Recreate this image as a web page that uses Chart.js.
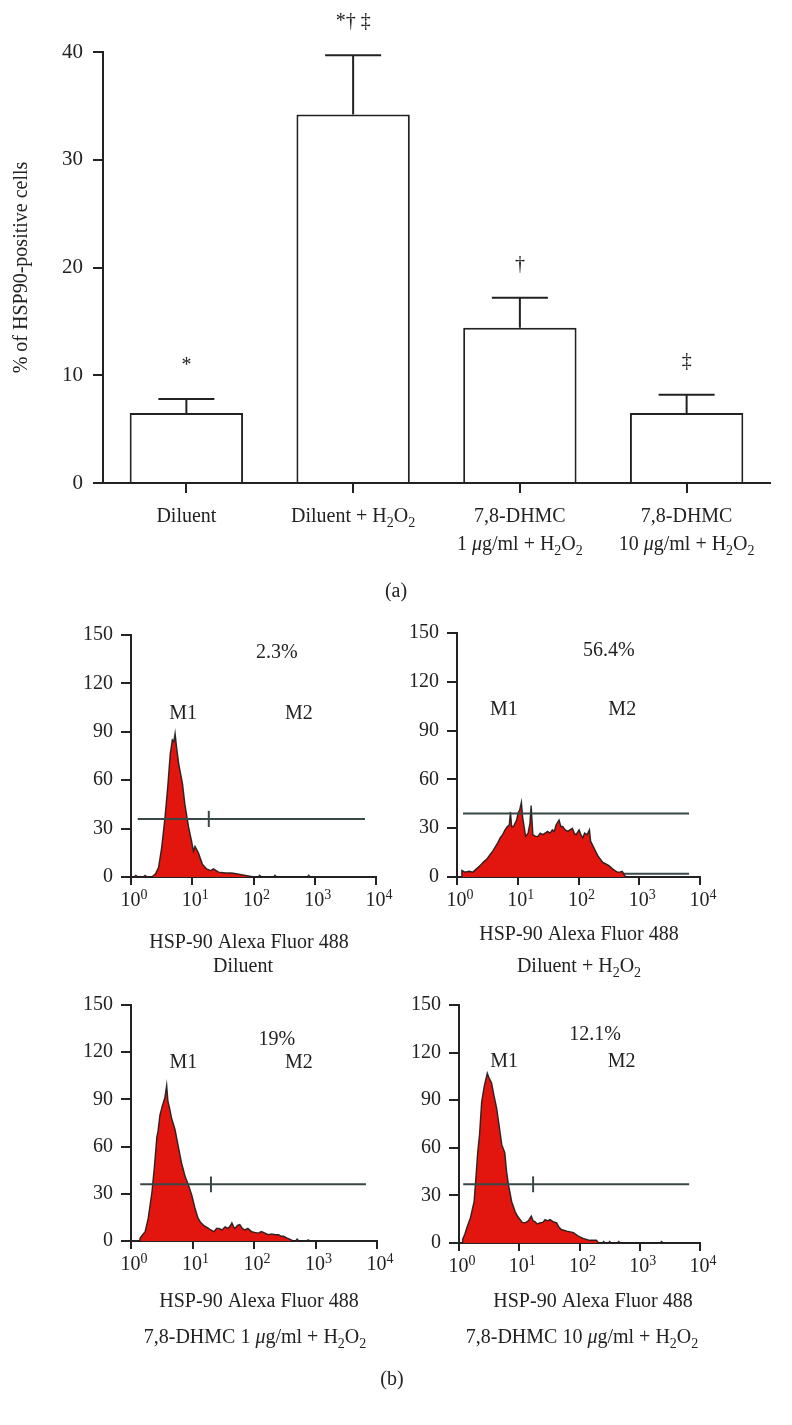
<!DOCTYPE html>
<html>
<head>
<meta charset="utf-8">
<script src="https://cdn.jsdelivr.net/npm/chart.js@4.4.1/dist/chart.umd.min.js"></script>
<style>
  html, body { margin: 0; padding: 0; background: #fff; }
  body { width: 792px; height: 1425px; position: relative; overflow: hidden; }
  canvas { position: absolute; }
</style>
</head>
<body>
<canvas id="barChart" width="792" height="605" style="left:0px;top:0px"></canvas>
<canvas id="histA" width="420" height="385" style="left:0px;top:600px"></canvas>
<canvas id="histB" width="392" height="385" style="left:400px;top:600px"></canvas>
<canvas id="histC" width="420" height="440" style="left:0px;top:985px"></canvas>
<canvas id="histD" width="392" height="440" style="left:400px;top:985px"></canvas>
<script>
// ---- data (a): % of HSP90-positive cells ----
const categories = ['Diluent', 'Diluent + H2O2', '7,8-DHMC 1 μg/ml + H2O2', '7,8-DHMC 10 μg/ml + H2O2'];
const means = [6.5, 34.2, 14.4, 6.5];
const errors = [1.3, 5.5, 2.8, 1.7];
const marks = ['*', '*† ‡', '†', '‡'];
const yTicks = [0, 10, 20, 30, 40];

// ---- data (b): histograms, [log10 fluorescence, count] ----
const histDiluent = [[0.05,0],[0.08,1],[0.11,0],[0.2,0],[0.23,1],[0.26,0],[0.34,0],[0.4,2],[0.45,6],[0.5,18],[0.555,37],[0.6,56],[0.64,76],[0.675,85],[0.7,84],[0.72,89],[0.745,80],[0.78,70],[0.84,58],[0.88,45],[0.94,31],[0.99,22],[1.02,16],[1.045,19],[1.1,15],[1.165,8],[1.235,5],[1.3,4],[1.345,5],[1.43,3],[1.55,2.5],[1.64,2.5],[1.72,2],[1.8,1.5],[1.94,0.5],[2.0,0],[2.08,0],[2.1,1],[2.13,0],[2.33,0],[2.35,1],[2.38,0],[2.88,0],[2.9,1],[2.93,0]];
const histDiluentH2O2 = [[0.07,0],[0.08,4],[0.13,3],[0.2,3.5],[0.26,3],[0.32,5],[0.38,7],[0.43,9],[0.49,11],[0.54,13.5],[0.59,16],[0.63,18.5],[0.67,21],[0.71,24],[0.75,26],[0.79,29],[0.83,31],[0.86,32],[0.88,40],[0.9,31],[0.93,31],[0.98,35],[1.01,40],[1.03,41],[1.06,46],[1.08,37],[1.13,25],[1.17,27],[1.2,33],[1.22,44],[1.25,26],[1.29,25],[1.33,25],[1.37,27],[1.41,26],[1.45,27],[1.49,28],[1.53,27],[1.57,29],[1.6,28],[1.63,32],[1.68,35],[1.71,31],[1.74,31],[1.78,29],[1.82,28],[1.86,29],[1.9,30],[1.93,27],[1.96,26],[2.01,29],[2.04,26],[2.07,24],[2.1,27],[2.14,26],[2.18,29],[2.2,22],[2.24,19],[2.28,16],[2.32,13],[2.36,11],[2.4,9],[2.45,8],[2.5,7],[2.56,5],[2.6,4],[2.64,3],[2.68,3],[2.72,3.5],[2.75,1.5],[2.78,0]];
const histDhmc1 = [[0.14,0],[0.15,2],[0.23,6],[0.28,14.5],[0.34,31],[0.38,47],[0.42,66],[0.44,70],[0.47,80],[0.51,86],[0.55,91],[0.58,99],[0.6,89],[0.63,84],[0.66,78],[0.715,71],[0.77,60],[0.82,50],[0.88,41],[0.93,36],[0.99,29],[1.04,21],[1.09,14.5],[1.13,12],[1.18,10],[1.22,9],[1.26,8],[1.3,7],[1.35,6],[1.39,8],[1.43,8],[1.48,7],[1.53,9],[1.58,8],[1.62,10],[1.64,11.5],[1.67,9],[1.69,8],[1.73,10],[1.77,10.5],[1.81,8],[1.85,7],[1.9,8],[1.96,6],[2.01,5.5],[2.07,5],[2.12,6],[2.18,5],[2.23,4],[2.29,4.5],[2.34,4],[2.4,4],[2.44,3],[2.48,3],[2.53,2],[2.59,1],[2.64,0],[2.68,0],[2.7,1.2],[2.73,0],[2.86,0],[2.88,0.8],[2.92,0]];
const histDhmc10 = [[0.05,0],[0.06,2.3],[0.1,6],[0.13,9.6],[0.19,16],[0.25,26],[0.28,41],[0.31,57],[0.34,68],[0.376,89],[0.42,99],[0.47,107],[0.5,104],[0.54,101],[0.58,93],[0.625,85],[0.67,73],[0.71,62],[0.76,57],[0.79,45],[0.82,37],[0.875,26],[0.93,20],[0.97,17],[1.01,15],[1.05,13],[1.095,12.7],[1.15,14],[1.2,17],[1.23,14],[1.26,13.5],[1.3,12],[1.34,12.7],[1.39,13],[1.43,14.8],[1.47,14],[1.51,14.8],[1.56,13.5],[1.62,12.7],[1.66,10],[1.7,8.5],[1.79,7.5],[1.85,7],[1.9,6.5],[1.98,4.4],[2.06,2.9],[2.17,1.7],[2.28,1.7],[2.32,0],[2.38,0],[2.4,1],[2.43,0],[2.48,0],[2.5,1],[2.53,0],[2.63,0],[2.65,1],[2.68,0],[3.34,0],[3.36,1],[3.39,0]];
const histYTicks = [0, 30, 60, 90, 120, 150];
const histXDecades = [0, 1, 2, 3, 4];

const INK = '#222';
const RED = '#e3150f';
const GATE = '#3a4747';
const FONT = "'Liberation Serif', 'Times New Roman', serif";

// draws a line of mixed text: segments are [text, kind] with kind '', 'i', 'sub', 'sup'
function drawRich(ctx, segs, cx, cy, size) {
  let total = 0;
  const parts = segs.map(([t, k]) => {
    const s = k === 'sub' ? Math.round(size * 0.68) : k === 'sup' ? Math.round(size * 0.72) : size;
    const f = (k === 'i' ? 'italic ' : '') + s + 'px ' + FONT;
    ctx.font = f;
    const w = ctx.measureText(t).width;
    total += w;
    return { t, k, f, w };
  });
  let x = cx - total / 2;
  ctx.save();
  ctx.fillStyle = INK;
  ctx.textBaseline = 'middle';
  ctx.textAlign = 'left';
  parts.forEach(p => {
    ctx.font = p.f;
    const dy = p.k === 'sub' ? size * 0.32 : p.k === 'sup' ? -size * 0.3 : 0;
    ctx.fillText(p.t, x, cy + dy);
    x += p.w;
  });
  ctx.restore();
}

const h2o2 = [['H', ''], ['2', 'sub'], ['O', ''], ['2', 'sub']];
const categoryLines = [
  [[['Diluent', '']]],
  [[['Diluent + ', '']].concat(h2o2)],
  [[['7,8-DHMC', '']], [['1 ', ''], ['μ', 'i'], ['g/ml + ', '']].concat(h2o2)],
  [[['7,8-DHMC', '']], [['10 ', ''], ['μ', 'i'], ['g/ml + ', '']].concat(h2o2)]
];

// ---- (a) bar chart ----
const barExtras = {
  id: 'barExtras',
  afterDatasetsDraw(chart) {
    const ctx = chart.ctx, xs = chart.scales.x, ys = chart.scales.y;
    ctx.save();
    ctx.strokeStyle = INK;
    ctx.lineWidth = 2;
    means.forEach((m, i) => {
      const x = xs.getPixelForValue(i);
      const yBar = ys.getPixelForValue(m);
      const yTop = ys.getPixelForValue(m + errors[i]);
      ctx.beginPath();
      ctx.moveTo(x, yBar);
      ctx.lineTo(x, yTop);
      ctx.moveTo(x - 28, yTop);
      ctx.lineTo(x + 28, yTop);
      ctx.stroke();
      ctx.fillStyle = INK;
      ctx.font = '20px ' + FONT;
      ctx.textAlign = 'center';
      ctx.textBaseline = 'middle';
      ctx.fillText(marks[i], x, yTop - 33);
      categoryLines[i].forEach((line, j) => {
        drawRich(ctx, line, x, chart.chartArea.bottom + 34 + j * 28, 20);
      });
    });
    ctx.restore();
    drawRich(ctx, [['(a)', '']], 396, 592, 20);
  }
};

new Chart(document.getElementById('barChart'), {
  type: 'bar',
  data: {
    labels: categories,
    datasets: [{
      data: means,
      backgroundColor: '#fff',
      borderColor: INK,
      borderWidth: 2,
      barPercentage: 0.68,
      categoryPercentage: 1.0
    }]
  },
  options: {
    responsive: false,
    animation: false,
    layout: { padding: { top: 52, right: 22, left: 0, bottom: 0 } },
    plugins: { legend: { display: false }, tooltip: { enabled: false } },
    scales: {
      x: {
        grid: { offset: false, drawOnChartArea: false, tickLength: 10, color: INK, lineWidth: 2 },
        border: { color: INK, width: 2 },
        ticks: { display: false },
        afterFit: s => { s.height = 122; }
      },
      y: {
        min: 0, max: 40,
        afterBuildTicks: s => { s.ticks = yTicks.map(v => ({ value: v })); },
        ticks: { color: INK, font: { family: FONT, size: 21 }, padding: 10 },
        grid: { drawOnChartArea: false, tickLength: 10, color: INK, lineWidth: 2 },
        border: { color: INK, width: 2 },
        title: {
          display: true, text: '% of HSP90-positive cells', color: INK,
          font: { family: FONT, size: 20 }, padding: { top: 10, bottom: 0 }
        },
        afterFit: s => { s.width = 103; }
      }
    }
  },
  plugins: [barExtras]
});

// ---- (b) histograms ----
function histogram(id, cfg) {
  const extras = {
    id: 'histExtras',
    afterDraw(chart) {
      const ctx = chart.ctx, xs = chart.scales.x, ys = chart.scales.y;
      histXDecades.forEach(d => {
        drawRich(ctx, [['10', ''], [String(d), 'sup']], xs.getPixelForValue(d) + 3, chart.chartArea.bottom + 24, 20);
      });
      cfg.texts.forEach(t => {
        drawRich(ctx, [[t.text, '']], xs.getPixelForValue(t.x), ys.getPixelForValue(t.y), 20);
      });
      cfg.caption.forEach(c => drawRich(ctx, c.segs, c.x, c.y, 20));
      if (cfg.after) cfg.after(ctx);
    }
  };
  const g = cfg.gate;
  const datasets = [
    { data: [{ x: g.from, y: g.level }, { x: g.to, y: g.level }], order: 0 },
    { data: cfg.series.map(p => ({ x: p[0], y: p[1] })), order: 1,
      fill: 'origin', backgroundColor: RED, borderColor: 'rgba(25,25,25,0.9)', borderWidth: 1.4 }
  ];
  if (g.tick != null) {
    datasets.push({ data: [{ x: g.tick, y: g.level - 5 }, { x: g.tick, y: g.level + 5 }], order: 0 });
  }
  if (g.low != null) {
    datasets.push({ data: [{ x: g.from, y: g.low }, { x: g.to, y: g.low }], order: 2 });
  }
  datasets.forEach(ds => {
    ds.pointRadius = 0;
    ds.tension = 0;
    if (ds.order !== 1) { ds.borderColor = GATE; ds.borderWidth = 2; ds.fill = false; }
  });
  new Chart(document.getElementById(id), {
    type: 'line',
    data: { datasets },
    options: {
      responsive: false,
      animation: false,
      layout: { padding: { top: cfg.top, right: cfg.right, left: 0, bottom: 0 } },
      plugins: { legend: { display: false }, tooltip: { enabled: false } },
      scales: {
        x: {
          type: 'linear', min: 0, max: 4,
          afterBuildTicks: s => { s.ticks = histXDecades.map(v => ({ value: v })); },
          ticks: { display: false },
          grid: { drawOnChartArea: false, tickLength: 8, color: INK, lineWidth: 2 },
          border: { color: INK, width: 2 },
          afterFit: s => { s.height = cfg.xh; }
        },
        y: {
          min: 0, max: 150,
          afterBuildTicks: s => { s.ticks = histYTicks.map(v => ({ value: v })); },
          ticks: { color: INK, font: { family: FONT, size: 20 }, padding: 8 },
          grid: { drawOnChartArea: false, tickLength: 10, color: INK, lineWidth: 2 },
          border: { color: INK, width: 2 },
          afterFit: s => { s.width = cfg.yw; }
        }
      }
    },
    plugins: [extras]
  });
}

const line1 = [['HSP-90 Alexa Fluor 488', '']];

histogram('histA', {
  series: histDiluent, top: 35, right: 44, yw: 131, xh: 108,
  gate: { from: 0.11, to: 3.82, level: 36, tick: 1.27 },
  texts: [{ text: '2.3%', x: 2.38, y: 139 }, { text: 'M1', x: 0.85, y: 101 }, { text: 'M2', x: 2.74, y: 101 }],
  caption: [{ segs: line1, x: 249, y: 343 }, { segs: [['Diluent', '']], x: 243, y: 367 }]
});

histogram('histB', {
  series: histDiluentH2O2, top: 33, right: 92, yw: 57, xh: 108,
  gate: { from: 0.1, to: 3.82, level: 39, low: 2 },
  texts: [{ text: '56.4%', x: 2.5, y: 139 }, { text: 'M1', x: 0.77, y: 103 }, { text: 'M2', x: 2.72, y: 103 }],
  caption: [{ segs: line1, x: 179, y: 335 }, { segs: [['Diluent + ', '']].concat(h2o2), x: 179, y: 367 }]
});

histogram('histC', {
  series: histDhmc1, top: 13, right: 43, yw: 131, xh: 184,
  gate: { from: 0.15, to: 3.82, level: 36, tick: 1.3 },
  texts: [{ text: '19%', x: 2.37, y: 128 }, { text: 'M1', x: 0.85, y: 113 }, { text: 'M2', x: 2.73, y: 113 }],
  caption: [{ segs: line1, x: 259, y: 317 },
            { segs: [['7,8-DHMC 1 ', ''], ['μ', 'i'], ['g/ml + ', '']].concat(h2o2), x: 255, y: 353 }],
  after: ctx => drawRich(ctx, [['(b)', '']], 392, 395, 20)
});

histogram('histD', {
  series: histDhmc10, top: 18, right: 92, yw: 59, xh: 182,
  gate: { from: 0.07, to: 3.82, level: 37, tick: 1.23 },
  texts: [{ text: '12.1%', x: 2.26, y: 131 }, { text: 'M1', x: 0.75, y: 114 }, { text: 'M2', x: 2.7, y: 114 }],
  caption: [{ segs: line1, x: 193, y: 317 },
            { segs: [['7,8-DHMC 10 ', ''], ['μ', 'i'], ['g/ml + ', '']].concat(h2o2), x: 182, y: 353 }]
});
</script>
</body>
</html>
